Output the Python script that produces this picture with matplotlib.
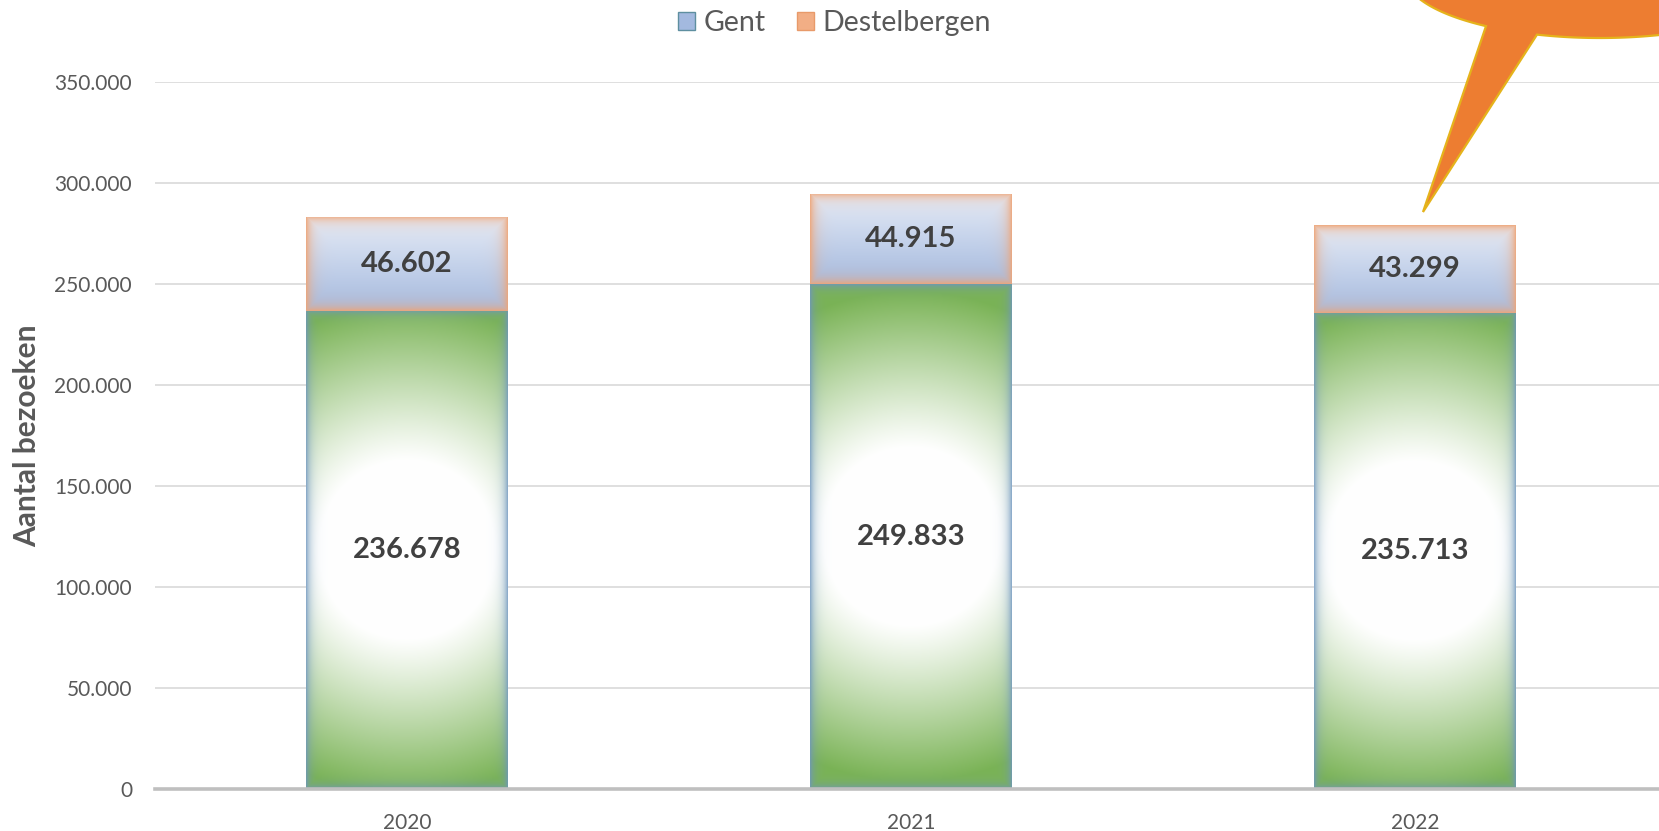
import numpy as np
import matplotlib
matplotlib.use("Agg")
import matplotlib.pyplot as plt
from matplotlib.patches import Patch, Polygon
from matplotlib.colors import to_rgb

plt.rcParams['font.family'] = ['Lato', 'DejaVu Sans']

years = ["2020", "2021", "2022"]
gent = [236678, 249833, 235713]
destelbergen = [46602, 44915, 43299]
yticks = [0, 50000, 100000, 150000, 200000, 250000, 300000, 350000]

def fmt(v):
    return f"{v:,}".replace(",", ".")

W, H = 1659, 831
DPI = 100
fig = plt.figure(figsize=(W / DPI, H / DPI), dpi=DPI)
# axes in pixel coordinates: left 155, right 1667, bottom(0) 789, top(350000) 82
L, R, T, B = 155, 1667, 82, 789
ax = fig.add_axes([L / W, 1 - B / H, (R - L) / W, (B - T) / H])
ax.set_xlim(-0.5, 2.5)
ax.set_ylim(0, 350000)
ax.set_yticks(yticks)
ax.set_yticklabels([fmt(v) for v in yticks])
x = np.arange(len(years))
ax.set_xticks(x)
ax.set_xticklabels(years)
ax.grid(axis='y', color='#D9D9D9', linewidth=1.2)
ax.set_axisbelow(True)
for s in ['left', 'right', 'top']:
    ax.spines[s].set_visible(False)
ax.spines['bottom'].set_color('#BFBFBF')
ax.spines['bottom'].set_linewidth(2.6)
ax.tick_params(axis='both', length=0, labelsize=15, labelcolor='#595959')
ax.tick_params(axis='y', pad=16.5)
ax.tick_params(axis='x', pad=17)
ax.set_ylabel("Aantal bezoeken", fontsize=21.5, fontweight='bold', color='#595959')
ax.yaxis.set_label_coords(-0.075, 0.5)

bw = 0.4
bars_g = ax.bar(x, gent, width=bw, facecolor='none', edgecolor='none')
bars_d = ax.bar(x, destelbergen, width=bw, bottom=gent, facecolor='none', edgecolor='none')

fig.canvas.draw()

def pix_size(p):
    x0, y0 = p.get_x(), p.get_y()
    x1, y1 = x0 + p.get_width(), y0 + p.get_height()
    (px0, py0), (px1, py1) = ax.transData.transform([(x0, y0), (x1, y1)])
    return int(round(abs(px1 - px0))), int(round(abs(py1 - py0))), (x0, x1, y0, y1)

def edge_dist(w, h):
    u = np.arange(w)[None, :] + 0.5
    v = np.arange(h)[:, None] + 0.5
    dx = np.minimum(u, w - u)
    dy = np.minimum(v, h - v)
    return u, v, np.minimum(np.broadcast_to(dx, (h, w)), np.broadcast_to(dy, (h, w)))

green = np.array(to_rgb('#7AB355'))
white = np.array([1.0, 1.0, 1.0])
glow_g = np.array(to_rgb('#6E95C0'))
for p in bars_g:
    w, h, (x0, x1, y0, y1) = pix_size(p)
    u, v, d = edge_dist(w, h)
    cx, cy = w / 2, h / 2
    r = np.sqrt((u - cx) ** 2 + ((v - cy) * 1.0) ** 2)
    t = np.clip((r - 88) / (245 - 88), 0, 1) ** 1.1
    img = white[None, None, :] * (1 - t[..., None]) + green[None, None, :] * t[..., None]
    a = (0.85 * np.exp(-d / 4.5))[..., None]
    img = img * (1 - a) + glow_g[None, None, :] * a
    im = ax.imshow(img, extent=(x0, x1, y0, y1), aspect='auto', origin='upper',
                   interpolation='bilinear', zorder=2)
    im.set_clip_path(p)

top_c = np.array(to_rgb('#E6ECF7'))
bot_c = np.array(to_rgb('#A5BADF'))
glow_o = np.array(to_rgb('#EFA577'))
for p in bars_d:
    w, h, (x0, x1, y0, y1) = pix_size(p)
    u, v, d = edge_dist(w, h)
    s = np.broadcast_to(v / h, (h, w))
    img = top_c[None, None, :] * (1 - s[..., None]) + bot_c[None, None, :] * s[..., None]
    a = (0.95 * np.exp(-d / 5.5))[..., None]
    img = img * (1 - a) + glow_o[None, None, :] * a
    im = ax.imshow(img, extent=(x0, x1, y0, y1), aspect='auto', origin='upper',
                   interpolation='bilinear', zorder=2)
    im.set_clip_path(p)

ax.set_xlim(-0.5, 2.5)
ax.set_ylim(0, 350000)

for i in range(len(years)):
    ax.text(x[i], gent[i] / 2, fmt(gent[i]), ha='center', va='center',
            fontsize=21, fontweight='bold', color='#404040', zorder=5)
    ax.text(x[i], gent[i] + destelbergen[i] / 2, fmt(destelbergen[i]), ha='center',
            va='center', fontsize=21, fontweight='bold', color='#404040', zorder=5)

handles = [Patch(facecolor='#A3B9DF', edgecolor='#5E8FA0', linewidth=1.0, label='Gent'),
           Patch(facecolor='#F2AE85', edgecolor='#E89A6A', linewidth=1.0, label='Destelbergen')]
fig.legend(handles=handles, loc='center', bbox_to_anchor=(0.503, 1 - 23 / H), ncol=2,
           frameon=False, fontsize=20.5, labelcolor='#595959', handlelength=0.6,
           handleheight=0.6, handletextpad=0.3, columnspacing=1.1)

# callout shape (figure pixel coords, y downward)
cx, cy, a_, b_ = 1600, -25, 195, 63
t1 = np.arccos((1486 - cx) / a_)
t2 = np.arccos((1537 - cx) / a_)
ts_a = np.linspace(0, t2, 80)
ts_b = np.linspace(t1, 2 * np.pi, 300)
pts = [(cx + a_ * np.cos(t), cy + b_ * np.sin(t)) for t in ts_a]
pts.append((1423, 212))
pts += [(cx + a_ * np.cos(t), cy + b_ * np.sin(t)) for t in ts_b]
pts = [(px / W, 1 - py / H) for px, py in pts]
callout = Polygon(pts, closed=True, facecolor='#ED7D31', edgecolor='#E5B31B',
                  linewidth=1.6, transform=fig.transFigure, clip_on=False, zorder=10)
fig.patches.append(callout)

fig.savefig("out.png", dpi=DPI)
